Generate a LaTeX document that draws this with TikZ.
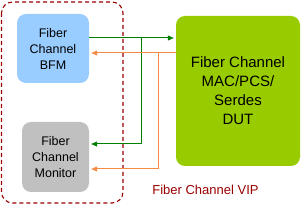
\documentclass[tikz,border=0pt]{standalone}
\usepackage{fontspec}
\setmainfont{Liberation Sans}
\usetikzlibrary{arrows.meta, positioning, calc}
\definecolor{bfmblue}{RGB}{153,204,255}
\definecolor{mongray}{RGB}{192,192,192}
\definecolor{dutgreen}{RGB}{153,204,0}
\definecolor{vipred}{RGB}{153,0,0}
\definecolor{sigorange}{RGB}{245,140,70}
\definecolor{siggreen}{RGB}{0,128,0}

\begin{document}
\begin{tikzpicture}[x=1pt, y=-1pt,
      block/.style={rectangle, rounded corners=9pt, align=center, inner sep=0pt},
      smallblk/.style={block, font=\fontsize{12.5}{16}\selectfont},
      greensig/.style={draw=siggreen, line width=1pt},
      orangesig/.style={draw=sigorange, line width=1pt},
      tip/.style={-{Triangle[length=6pt, width=5pt]}, shorten >=2pt}
    ]
    \useasboundingbox (0,0) rectangle (303,205);

    % VIP frame
    \draw[vipred, line width=1.1pt, dash pattern=on 4pt off 3pt, rounded corners=11pt]
      (1.5,2) rectangle (123,203);

    % blocks
    \node[smallblk, fill=bfmblue, minimum width=72pt, minimum height=69pt] (bfm) at (53,48.5)
      {Fiber\\Channel\\BFM};
    \node[smallblk, fill=mongray, minimum width=67pt, minimum height=70pt] (monitor) at (55.5,157)
      {Fiber\\Channel\\Monitor};
    \node[block, fill=dutgreen, minimum width=124pt, minimum height=150pt,
          font=\fontsize{15}{19}\selectfont] (dut) at (238,91)
      {Fiber Channel\\MAC/PCS/\\Serdes\\DUT};

    % split points
    \coordinate (gsplit) at ([yshift=10.5pt]bfm.east -| 141,0);
    \coordinate (osplit) at ([yshift=-4.5pt]bfm.east -| 158,0);

    % green: BFM to DUT and monitor
    \draw[greensig, tip] ([yshift=10.5pt]bfm.east) -- (gsplit -| dut.west);
    \draw[greensig, tip] (gsplit) |- ([yshift=13pt]monitor.east);

    % orange: DUT to BFM and monitor
    \draw[orangesig, tip] (osplit -| dut.west) -- ([yshift=-4.5pt]bfm.east);
    \draw[orangesig, tip] (osplit) |- ([yshift=-12pt]monitor.east);

    % label
    \node[text=vipred, font=\fontsize{13}{15}\selectfont] (viplabel) at (205.5,190) {Fiber Channel VIP};
\end{tikzpicture}
\end{document}
